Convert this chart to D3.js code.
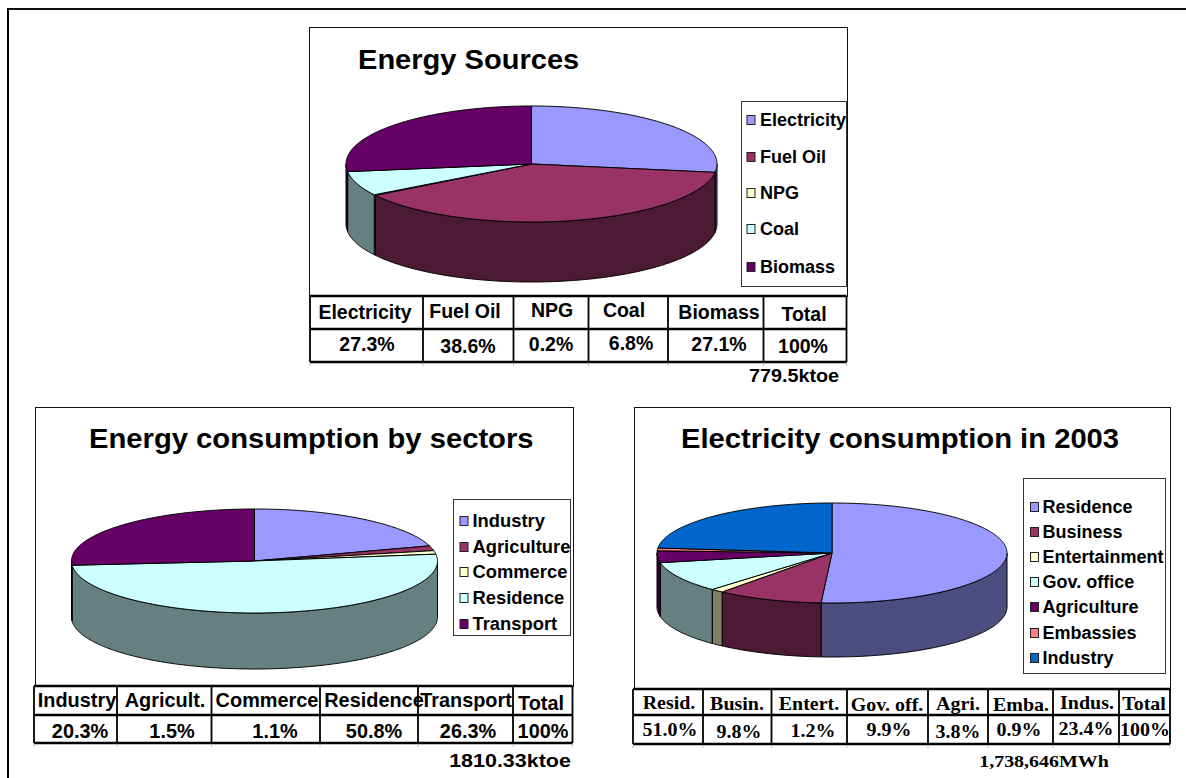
<!DOCTYPE html>
<html><head><meta charset="utf-8">
<script src="https://cdn.jsdelivr.net/npm/d3@7"></script>
<style>html,body{margin:0;padding:0;background:#fff}svg{display:block}</style>
</head><body><svg id="c" width="1186" height="778"></svg>
<script>
const PURPLE="#9999ff",WINE="#993366",CREAM="#ffffcc",CYAN="#ccffff",PLUM="#660066",SALMON="#ff8080",BLUE="#0066cc";

const sourcesTitle="Energy Sources";
const sourcesNames=["Electricity","Fuel Oil","NPG","Coal","Biomass"];
const sourcesValues=[27.3,38.6,0.2,6.8,27.1];
const sourcesColors=[PURPLE,WINE,CREAM,CYAN,PLUM];
const sourcesHeaders=["Electricity","Fuel Oil","NPG","Coal","Biomass","Total"];
const sourcesCells=["27.3%","38.6%","0.2%","6.8%","27.1%","100%"];
const sourcesNote="779.5ktoe";

const sectorsTitle="Energy consumption by sectors";
const sectorsNames=["Industry","Agriculture","Commerce","Residence","Transport"];
const sectorsValues=[20.3,1.5,1.1,50.8,26.3];
const sectorsColors=[PURPLE,WINE,CREAM,CYAN,PLUM];
const sectorsHeaders=["Industry","Agricult.","Commerce","Residence","Transport","Total"];
const sectorsCells=["20.3%","1.5%","1.1%","50.8%","26.3%","100%"];
const sectorsNote="1810.33ktoe";

const elecTitle="Electricity consumption in 2003";
const elecNames=["Residence","Business","Entertainment","Gov. office","Agriculture","Embassies","Industry"];
const elecValues=[51.0,9.8,1.2,9.9,3.8,0.9,23.4];
const elecColors=[PURPLE,WINE,CREAM,CYAN,PLUM,SALMON,BLUE];
const elecHeaders=["Resid.","Busin.","Entert.","Gov. off.","Agri.","Emba.","Indus.","Total"];
const elecCells=["51.0%","9.8%","1.2%","9.9%","3.8%","0.9%","23.4%","100%"];
const elecNote="1,738,646MWh";

const SANS="'Liberation Sans',Arial,sans-serif", SERIF="'Liberation Serif','Times New Roman',serif";
const svg=d3.select("#c");
const panels=[
 {title:sourcesTitle,names:sourcesNames,values:sourcesValues,colors:sourcesColors,headers:sourcesHeaders,cells:sourcesCells,note:sourcesNote,
  frame:[309,27,847,296],titleX:358,titleY:69,titleSize:28.5,titleSx:1.02,
  pie:{cx:531.5,cy:164,rx:185.5,ry:58,d:60},
  legend:{box:[741,101,846,286],sx:747,tx:760,ys:[120,157,193,229,267],size:18,lsx:1.0},
  table:{font:SANS,size:19.5,sxT:1.0,xs:[310,423,513.5,588.5,668,763.5,846.5],ys:[296,329,362],
   hx:[365,465,552,624,719,804],hy:[319,318,317,317,319,321],vx:[367,468,551,631,719,803],vy:[351,353,351,350,351,353]},
  note_:{x:794,y:382,size:18,family:SANS,sx:1.1}},
 {title:sectorsTitle,names:sectorsNames,values:sectorsValues,colors:sectorsColors,headers:sectorsHeaders,cells:sectorsCells,note:sectorsNote,
  frame:[35,407,573,686],titleX:89,titleY:448,titleSize:28.5,titleSx:1.025,
  pie:{cx:254.5,cy:561,rx:183,ry:52,d:56},
  legend:{box:[453,499,570,635],sx:460,tx:472.5,ys:[521,547,572,598,624],size:18,lsx:1.02},
  table:{font:SANS,size:19.5,sxT:1.02,xs:[34,117,211.5,320,418,513,572.5],ys:[686,715,743],
   hx:[77,165,267,374,466,541],hy:[707,707,707,707,707,710],vx:[80,172,275,374,468,543],vy:[738,738,738,738,738,738]},
  note_:{x:510,y:767,size:19,family:SANS,sx:1.13}},
 {title:elecTitle,names:elecNames,values:elecValues,colors:elecColors,headers:elecHeaders,cells:elecCells,note:elecNote,
  frame:[634,407,1170,689],titleX:681,titleY:448,titleSize:28.5,titleSx:1.025,
  pie:{cx:832,cy:553,rx:175,ry:50,d:54},
  legend:{box:[1023,478,1165,673],sx:1030.5,tx:1042.5,ys:[507,532,557,582,607,633,658],size:18,lsx:1.0},
  table:{font:SERIF,size:18.5,sxT:1.08,xs:[633,703,771.5,847,928,988,1053,1119,1170],ys:[689,715,744],
   hx:[669,737,809,887,958,1021,1087,1144],hy:[709,710,710,711,710,711,709,710],vx:[670,739,813,889,958,1019,1086,1145],vy:[736,738,737,736,738,736,735,736]},
  note_:{x:1044,y:767,size:17.5,family:SERIF,sx:1.14}}
];

function label(g,str,x,y,size,opts={}){
  const sx=opts.sx||1;
  return g.append("text").text(str)
    .attr("transform",`translate(${x},${y}) scale(${sx},1)`)
    .attr("font-family",opts.family||SANS).attr("font-weight","bold")
    .attr("font-size",size).attr("fill","#000").attr("text-anchor",opts.anchor||"start");
}

function shade(col){const c=d3.rgb(col);return d3.rgb(c.r*0.5,c.g*0.5,c.b*0.5).toString();}

function pie3d(g,p){
  const {cx,cy,rx,ry,d}=p.pie;
  const X=d3.scaleLinear().domain([-1,1]).range([cx-rx,cx+rx]);
  const Y=d3.scaleLinear().domain([-1,1]).range([cy-ry,cy+ry]);
  const arcs=d3.pie().sort(null).value(v=>v)(p.values);
  const samp=(a0,a1)=>{const n=Math.max(2,Math.ceil(Math.abs(a1-a0)/0.01));
    return d3.range(n+1).map(i=>{const t=a0+(a1-a0)*i/n;return [X(Math.sin(t)),Y(-Math.cos(t))];});};
  const line=d3.line();
  const wall=[];
  arcs.forEach((a,i)=>{
    const lo=Math.max(a.startAngle,Math.PI/2), hi=Math.min(a.endAngle,Math.PI*1.5);
    if(hi>lo) wall.push({lo,hi,i});
  });
  g.selectAll("path.wall").data(wall).join("path").attr("class","wall")
    .attr("d",w=>{const top=samp(w.lo,w.hi);const bot=top.map(q=>[q[0],q[1]+d]).reverse();return line(top.concat(bot))+"Z";})
    .attr("fill",w=>shade(p.colors[w.i]))
    .attr("stroke","#000").attr("stroke-width",1).attr("stroke-linejoin","round");
  g.selectAll("path.top").data(arcs).join("path").attr("class","top")
    .attr("d",a=>line([[X(0),Y(0)]].concat(samp(a.startAngle,a.endAngle)))+"Z")
    .attr("fill",(a,i)=>p.colors[i]).attr("stroke","#000").attr("stroke-width",1).attr("stroke-linejoin","round");
}

function legend(g,p){
  const L=p.legend,[x0,y0,x1,y1]=L.box;
  g.append("rect").attr("x",x0+.5).attr("y",y0+.5).attr("width",x1-x0).attr("height",y1-y0)
    .attr("fill","#fff").attr("stroke","#333").attr("stroke-width",1);
  p.names.forEach((n,i)=>{
    g.append("rect").attr("x",L.sx).attr("y",L.ys[i]-4.5).attr("width",8).attr("height",9)
      .attr("fill",p.colors[i]).attr("stroke","#222").attr("stroke-width",1);
    label(g,n,L.tx,L.ys[i]+6,L.size,{sx:L.lsx});
  });
}

function table(g,p){
  const T=p.table,[yt,ym,yb]=T.ys,x0=T.xs[0],x1=T.xs[T.xs.length-1];
  T.ys.forEach(y=>g.append("line").attr("x1",x0).attr("x2",x1).attr("y1",y).attr("y2",y).attr("stroke","#000").attr("stroke-width",2.4));
  T.xs.forEach(x=>g.append("line").attr("x1",x).attr("x2",x).attr("y1",yt).attr("y2",yb).attr("stroke","#000").attr("stroke-width",1.8));
  T.xs.forEach(x=>g.append("line").attr("x1",x).attr("x2",x).attr("y1",yb+1).attr("y2",yb+4).attr("stroke","#bbb").attr("stroke-width",1));
  p.headers.forEach((h,i)=>label(g,h,T.hx[i],T.hy[i],T.size,{family:T.font,anchor:"middle",sx:T.sxT}));
  p.cells.forEach((h,i)=>label(g,h,T.vx[i],T.vy[i],T.size,{family:T.font,anchor:"middle",sx:T.sxT}));
}

svg.append("line").attr("x1",7).attr("x2",1186).attr("y1",9).attr("y2",9).attr("stroke","#111").attr("stroke-width",2);
svg.append("line").attr("x1",8).attr("x2",8).attr("y1",8).attr("y2",778).attr("stroke","#000").attr("stroke-width",2);

panels.forEach(p=>{
  const g=svg.append("g");
  const [a,b,c,e]=p.frame;
  g.append("rect").attr("x",a+.5).attr("y",b+.5).attr("width",c-a).attr("height",e-b).attr("fill","#fff").attr("stroke","#111").attr("stroke-width",1);
  label(g,p.title,p.titleX,p.titleY,p.titleSize,{sx:p.titleSx});
  pie3d(g,p);
  legend(g,p);
  table(g,p);
  label(g,p.note,p.note_.x,p.note_.y,p.note_.size,{family:p.note_.family,sx:p.note_.sx,anchor:"middle"});
});
</script></body></html>
